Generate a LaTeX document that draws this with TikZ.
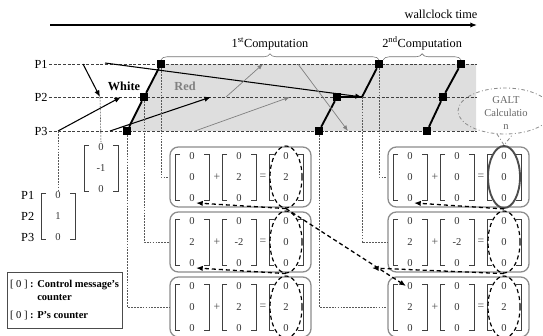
\documentclass[tikz,border=0pt]{standalone}
\usepackage{fontspec}
\setmainfont{Liberation Serif}
\usepackage{tikz}
\usetikzlibrary{shapes.geometric, positioning, decorations.pathreplacing}
\usetikzlibrary{arrows.meta}
\tikzset{>={Latex[width=1.6mm,length=2mm]}}

% column vector: name, x, y, top, middle, bottom
\newcommand{\colvec}[6]{%
  \node[val] (#1t) at (#2,#3-21) {#4};
  \node[val] (#1m) at (#2,#3) {#5};
  \node[val] (#1b) at (#2,#3+21) {#6};
  \draw[brk] (#2-12,#3-23) -- (#2-17,#3-23) -- (#2-17,#3+23) -- (#2-12,#3+23);
  \draw[brk] (#2+12,#3-23) -- (#2+17,#3-23) -- (#2+17,#3+23) -- (#2+12,#3+23);
}
% counter sum box: name, left x, centre y, middle entries
\newcommand{\sumbox}[6]{%
  \node[sumbox] (#1) at (#2+70.5,#3) {};
  \colvec{#1a}{#2+22}{#3}{0}{#4}{0}
  \node[op] (#1p) at (#2+47,#3) {+};
  \colvec{#1b}{#2+69}{#3}{0}{#5}{0}
  \node[op] (#1q) at (#2+93,#3) {=};
  \colvec{#1c}{#2+116}{#3}{0}{#6}{0}
}

\begin{document}
\begin{tikzpicture}[x=0.03cm, y=-0.03cm, cut/.style={rectangle, fill=black, minimum size=0.24cm, inner sep=0pt}, plabel/.style={font=\fontsize{10.5}{12}\selectfont, inner sep=1pt}, procline/.style={dash pattern=on 2.5pt off 1.5pt, black!75, line width=0.5pt}, dotline/.style={dash pattern=on 1.5pt off 1pt, black!65, line width=0.5pt}, cutline/.style={line width=1.6pt}, msg/.style={->, line width=0.9pt}, redmsg/.style={-{Latex[width=1.3mm,length=1.7mm]}, line width=0.6pt, black!50}, brace/.style={decorate, decoration={brace, amplitude=0.18cm}, black!55, line width=0.5pt}, val/.style={font=\fontsize{9}{10}\selectfont, text=black!80, inner sep=1pt}, brk/.style={black!75, line width=0.5pt}, op/.style={font=\fontsize{10}{11}\selectfont, text=black!70, inner sep=1pt}, sumbox/.style={draw=black!45, line width=1.1pt, rounded corners=0.25cm, minimum width=4.23cm, minimum height=1.8cm, inner sep=0pt}, resell/.style={ellipse, draw, dash pattern=on 3.5pt off 2.5pt, line width=1pt, minimum width=0.96cm, minimum height=1.86cm, inner sep=0pt}, galtline/.style={black!45, line width=0.7pt, dash pattern=on 3pt off 2pt on 0.8pt off 2pt}, backarrow/.style={->, line width=1.1pt, dash pattern=on 3.5pt off 2.5pt}, legend/.style={draw=black!70, line width=0.6pt, minimum width=3.45cm, minimum height=1.68cm, align=left, inner sep=1pt, font=\fontsize{9}{11}\selectfont\bfseries}]
    \useasboundingbox (0,0) rectangle (543,335);

    %Red zone
    \fill[black!13] (161,64) -- (476,64) -- (476,131) -- (127,131) -- (144,97) -- cycle;

    %Time axis
    \coordinate (t0) at (50,25);
    \coordinate (t1) at (477,25);
    \draw[->, line width=1.3pt] (t0) -- (t1);
    \node[plabel] (wall) at (441,14) {wallclock time};

    %Processes
    \node[plabel] (P1) at (41,64) {P1};
    \node[plabel] (P2) at (41,97) {P2};
    \node[plabel] (P3) at (41,131) {P3};
    \coordinate (e1) at (477,64);
    \coordinate (e2) at (477,97);
    \coordinate (e3) at (477,131);
    \draw[procline] (P1.east) -- (e1);
    \draw[procline] (P2.east) -- (e2);
    \draw[procline] (P3.east) -- (e3);

    %Cuts
    \node[cut] (c1a) at (161,64) {};
    \node[cut] (c1b) at (144,97) {};
    \node[cut] (c1c) at (127,131) {};
    \node[cut] (c2a) at (379,64) {};
    \node[cut] (c2b) at (337,97) {};
    \node[cut] (c2c) at (319,131) {};
    \coordinate (c2m) at (362,97);
    \node[cut] (c3a) at (461,64) {};
    \node[cut] (c3b) at (443,97) {};
    \node[cut] (c3c) at (427,131) {};
    \draw[cutline] (c1a) -- (c1b) -- (c1c);
    \draw[cutline] (c2c) -- (c2b) -- (c2m) -- (c2a);
    \draw[cutline] (c3a) -- (c3b) -- (c3c);

    %Braces
    \draw[brace] (c1a.north) -- (c2a.north) node[midway, above=0.25cm, plabel, text=black] (comp1) {1\textsuperscript{st}Computation};
    \draw[brace] (c2a.north east) -- (c3a.north) node[midway, above=0.25cm, plabel, text=black] (comp2) {2\textsuperscript{nd}Computation};

    %Messages
    \coordinate (m1s) at (83,64);
    \coordinate (m1e) at (100,97);
    \coordinate (m2s) at (58,131);
    \coordinate (m2e) at (121,97);
    \coordinate (m3s) at (110,131);
    \coordinate (m3e) at (211,97);
    \coordinate (m4s) at (105,63);
    \coordinate (g1s) at (226,97);
    \coordinate (g1e) at (263,64);
    \coordinate (g2s) at (195,131);
    \coordinate (g2e) at (290,97);
    \coordinate (g3s) at (298,64);
    \coordinate (g3e) at (348,131);
    \draw[msg] (m1s) -- (m1e);
    \draw[msg] (m2s) -- (m2e);
    \draw[msg] (m3s) -- (m3e);
    \draw[msg] (m4s) -- (c2m);
    \draw[redmsg] (g1s) -- (g1e);
    \draw[redmsg] (g2s) -- (g2e);
    \draw[redmsg] (g3s) -- (g3e);
    \node[font=\fontsize{10.5}{12}\selectfont\bfseries] (white) at (124,86) {White};
    \node[font=\fontsize{10.5}{12}\selectfont\bfseries, text=black!50] (red) at (185,86) {Red};

    %Vectors
    \colvec{cv}{101}{168}{0}{-1}{0}
    \colvec{pv}{58}{216}{0}{1}{0}
    \node[plabel, left=0.55cm of pvt] (q1) {P1};
    \node[plabel, left=0.55cm of pvm] (q2) {P2};
    \node[plabel, left=0.55cm of pvb] (q3) {P3};

    %Boxes
    \sumbox{L1}{170}{177}{0}{2}{2}
    \sumbox{L2}{170}{242}{2}{-2}{0}
    \sumbox{L3}{170}{307}{0}{2}{2}
    \sumbox{R1}{388}{177}{0}{0}{0}
    \sumbox{R2}{388}{242}{2}{-2}{0}
    \sumbox{R3}{388}{307}{2}{0}{2}
    \node[resell] (L1e) at (L1cm) {};
    \node[resell] (L2e) at (L2cm) {};
    \node[resell] (L3e) at (L3cm) {};
    \node[ellipse, draw=black!70, line width=1.6pt, minimum width=0.96cm, minimum height=1.86cm, inner sep=0pt] (R1e) at (R1cm) {};
    \node[resell] (R2e) at (R2cm) {};
    \node[resell] (R3e) at (R3cm) {};

    %Links to boxes
    \draw[dotline] (m1e) -- (cvt.north);
    \draw[dotline] (m2s) -- (pvt.north);
    \draw[dotline] (c1a) |- (L1.west);
    \draw[dotline] (c1b) |- (L2.west);
    \draw[dotline] (c1c) |- (L3.west);
    \draw[dotline] (c2a) |- (R1.west);
    \draw[dotline] (c2m) |- (R2.west);
    \draw[dotline] (c2c) |- (R3.west);

    %Counter arrows
    \coordinate (r2tip) at (372,268);
    \draw[backarrow] (L1e.south) -- (L1ab.south east);
    \draw[backarrow] (L2e.south) -- (L2ab.south east);
    \draw[backarrow] (R1e.south) -- (R1ab.south east);
    \draw[backarrow] (R2e.south) -- (r2tip);
    \draw[backarrow] (L1e.south) -- (R3at.west);

    %GALT
    \node[font=\fontsize{9}{11.5}\selectfont, text=black!60, align=center] (galt) at (506,113) {GALT\\Calculatio\\n};
    \draw[galtline] (505,111) ellipse [x radius=1.41cm, y radius=0.69cm];
    \coordinate (gl) at (497,134);
    \coordinate (gr) at (513,134);
    \draw[galtline] (gl) -- (R1e.north) -- (gr);

    %Legend
    \node[legend] (key) at (64.5,300) {\textmd{[ 0 ]} : Control message's\\ \phantom{\textmd{[ 0 ]} : }counter\\[5pt] \textmd{[ 0 ]} : P's counter};

\end{tikzpicture}
\end{document}
